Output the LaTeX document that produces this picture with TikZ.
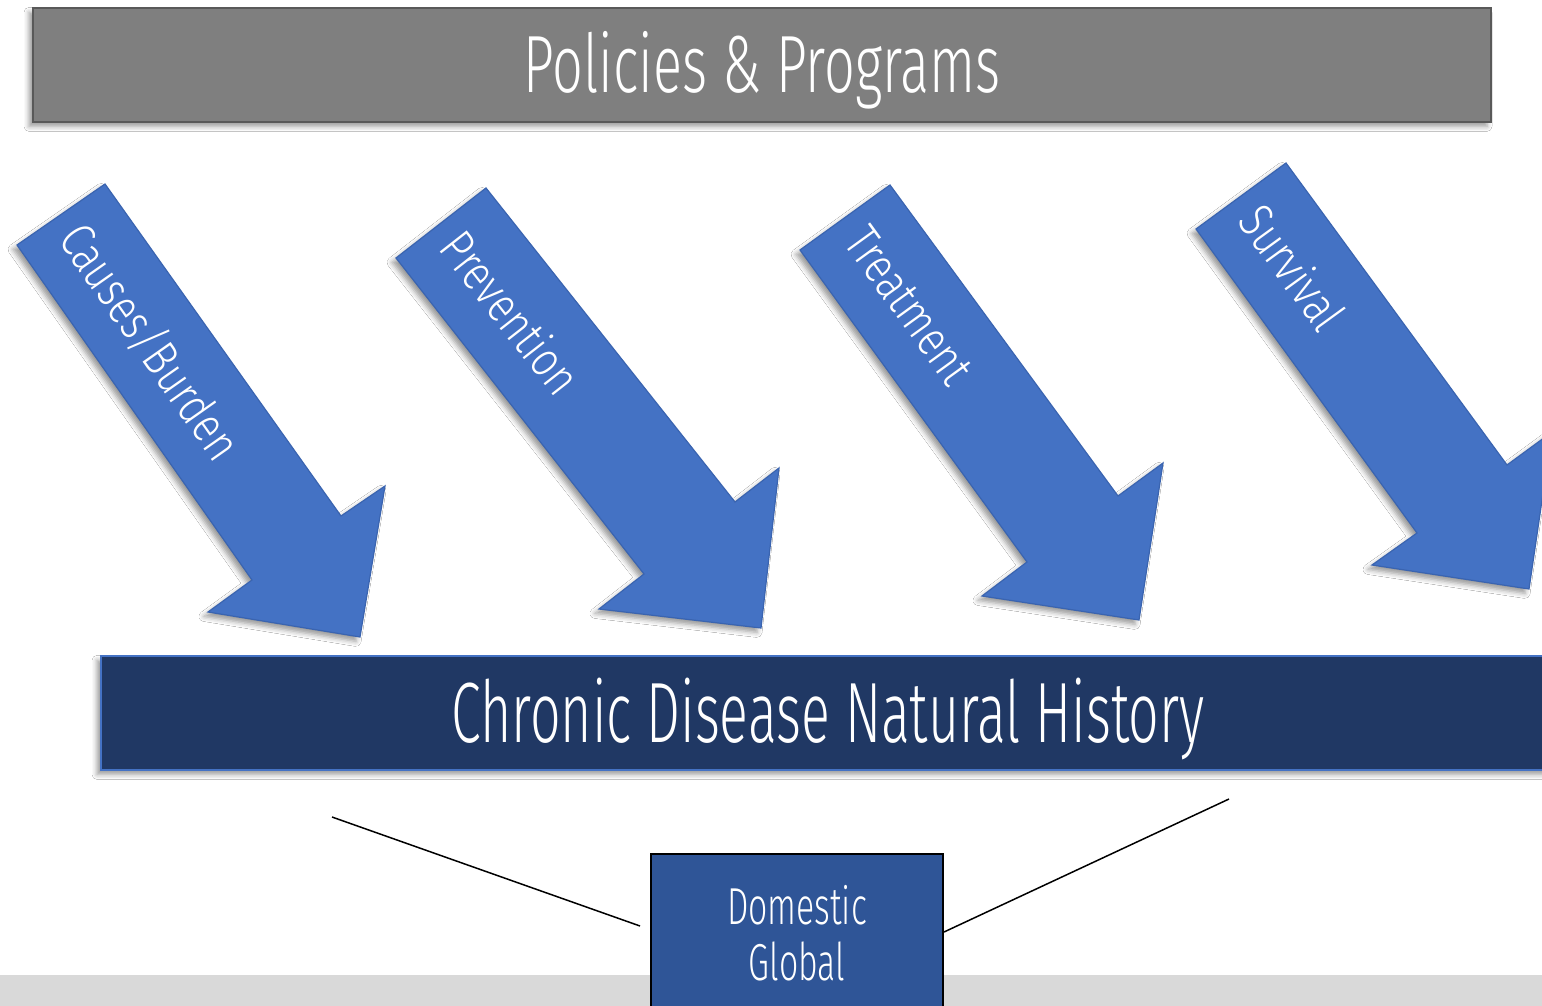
\documentclass[tikz,border=0pt]{standalone}
\usepackage{fontspec}
\newfontfamily\agencytitle[FakeStretch=0.665]{Fira Sans Light}
\newfontfamily\agencymain[FakeStretch=0.627]{Fira Sans Light}
\newfontfamily\agencyarrow[FakeStretch=0.8]{Fira Sans Light}
\newfontfamily\agency[FakeStretch=0.65]{Fira Sans Light}
\usetikzlibrary{shadows.blur}
\definecolor{arrowblue}{HTML}{4472C4}
\definecolor{arrowedge}{HTML}{3A64B0}
\definecolor{boxgray}{HTML}{7F7F7F}
\definecolor{boxgrayedge}{HTML}{595959}
\definecolor{navy}{HTML}{203864}
\definecolor{navyedge}{HTML}{4472C4}
\definecolor{domblue}{HTML}{2F5597}
\definecolor{bandgray}{HTML}{D9D9D9}
\tikzset{
  softshadow/.style={blur shadow={shadow xshift=-2pt, shadow yshift=-2.2pt, shadow blur radius=2.5pt, shadow opacity=40}},
  bigarrow/.style={fill=arrowblue, draw=arrowedge, line width=0.6pt, line join=miter, softshadow},
  arrowlabel/.style={font=\agencyarrow\fontsize{25}{25}\selectfont, text=white, inner sep=0pt, anchor=west},
  topbox/.style={fill=boxgray, draw=boxgrayedge, line width=1pt, minimum width=729pt, minimum height=57pt, inner sep=0pt, softshadow,
    font=\agencytitle\fontsize{40.6}{40.6}\selectfont, text=white, text height=28pt, text depth=0pt},
  navybox/.style={fill=navy, draw=navyedge, line width=1pt, minimum width=727pt, minimum height=57pt, inner sep=0pt, softshadow,
    font=\agencymain\fontsize{42.8}{42.8}\selectfont, text=white, text height=29.5pt, text depth=0pt},
  dombox/.style={fill=domblue, draw=black, line width=1pt, minimum width=146pt, minimum height=123pt, inner sep=0pt},
  domtext/.style={font=\agency\fontsize{26}{28}\selectfont, text=white, align=center, inner sep=0pt},
  link/.style={draw=black, line width=0.75pt},
}
\begin{document}
\begin{tikzpicture}[x=0.5pt,y=-0.5pt]
\clip (0,0) rectangle (1542,1006);
\fill[white] (0,0) rectangle (1542,1006);

% top box
\node[topbox] (policies) at (762,65) {Policies \& Programs};

% arrows
\filldraw[bigarrow] (17,245) -- (105,184) -- (341,516) -- (385,486) -- (360,637) -- (208,612) -- (252,580) -- cycle;
\filldraw[bigarrow] (396,258) -- (486,188) -- (735,502) -- (779,468) -- (761,628) -- (599,609) -- (644,574) -- cycle;
\filldraw[bigarrow] (800,250) -- (890,185) -- (1118,496) -- (1163,463) -- (1139,620) -- (982,596) -- (1027,562) -- cycle;
\filldraw[bigarrow] (1196,229) -- (1286,163) -- (1507,465) -- (1552,432) -- (1529,589) -- (1372,565) -- (1417,533) -- cycle;

\node[arrowlabel, rotate=-54.9] (causes) at (71.3,229.3) {Causes/Burden};
\node[arrowlabel, rotate=-51.9] (prevention) at (452,237) {Prevention};
\node[arrowlabel, rotate=-54] (treatment) at (855.6,232) {Treatment};
\node[arrowlabel, rotate=-54] (survival) at (1251.6,210.5) {Survival};

% navy box
\node[navybox] (history) at (828,713) {Chronic Disease Natural History};

% bottom band
\fill[bandgray] (0,975) rectangle (1542,1006);

% domestic/global box
\node[dombox] (dom) at (797,977) {};
\node[domtext] (domlabel) at (797,933) {Domestic\\Global};

% connectors
\coordinate (lfree) at (332,817);
\coordinate (lend) at (640,926);
\coordinate (rfree) at (1229,799);
\coordinate (rend) at (944,932);
\draw[link] (lfree) -- (lend);
\draw[link] (rfree) -- (rend);
\end{tikzpicture}
\end{document}
